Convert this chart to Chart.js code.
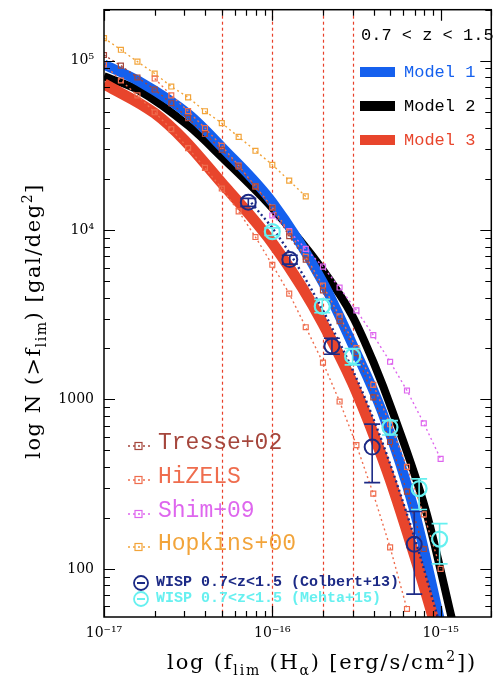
<!DOCTYPE html>
<html lang="en">
  <head>
    <meta charset="UTF-8" />
    <title>H-alpha number counts</title>
    <script src="https://cdn.jsdelivr.net/npm/chart.js"></script>
    <style>
      body { margin: 0; background: #fff; }
      #wrap { width: 501px; height: 682px; }
    </style>
  </head>
  <body>
    <div id="wrap"><canvas id="counts" width="501" height="682"></canvas></div>

    <script>
      // flux limits in erg/s/cm2, cumulative counts in gal/deg2
      const model1Flux = [1e-17, 1.6e-17, 3.2e-17, 5e-17, 1e-16, 2e-16, 3e-16, 4.5e-16, 7e-16, 9.8e-16, 1.1e-15];
      const model1N = [9.5e4, 7.6e4, 4.8e4, 3.1e4, 1.46e4, 4.9e3, 2.1e3, 840, 218, 52, 32];

      const model2Flux = [1e-17, 1.6e-17, 3.2e-17, 5e-17, 1e-16, 2e-16, 3e-16, 4e-16, 5.2e-16, 8.2e-16, 1.16e-15, 1.3e-15];
      const model2N = [8.1e4, 6.7e4, 4.1e4, 2.7e4, 1.35e4, 5.8e3, 3.1e3, 1.65e3, 840, 218, 52, 32];

      const model3Flux = [1e-17, 2e-17, 3e-17, 5e-17, 7e-17, 1e-16, 1.5e-16, 2e-16, 3e-16, 4e-16, 5e-16, 7e-16, 9e-16, 1e-15];
      const model3N = [7.3e4, 4.9e4, 3.4e4, 1.9e4, 1.3e4, 8.4e3, 4.6e3, 2.8e3, 1.25e3, 620, 340, 120, 52, 35];

      // dotted navy curve following the Colbert points
      const colbertLineFlux = [7.5e-17, 1.07e-16, 1.6e-16, 2.14e-16, 3.2e-16, 4.28e-16, 5.35e-16, 7.5e-16, 9.6e-16];
      const colbertLineN = [1.45e4, 9.4e3, 5.0e3, 2.95e3, 1.3e3, 640, 345, 122, 52];

      const hopkinsFlux = [1e-17, 1.26e-17, 1.58e-17, 2e-17, 2.51e-17, 3.16e-17, 3.98e-17, 5.01e-17, 6.31e-17, 7.94e-17, 1e-16, 1.26e-16, 1.58e-16];
      const hopkinsN = [1.36e5, 1.16e5, 9.87e4, 8.4e4, 7.04e4, 6.08e4, 5.03e4, 4.28e4, 3.55e4, 2.94e4, 2.43e4, 1.96e4, 1.58e4];

      const tresseFlux = [1e-17, 1.26e-17, 1.58e-17, 2e-17, 2.51e-17, 3.16e-17, 3.98e-17, 5.01e-17, 6.31e-17, 7.94e-17,
        1e-16, 1.26e-16, 1.58e-16, 2e-16, 2.51e-16, 3.16e-16, 3.98e-16, 5.01e-16, 6.31e-16, 7.94e-16];
      const tresseN = [1.08e5, 9.35e4, 7.96e4, 6.76e4, 5.61e4, 4.58e4, 3.69e4, 2.98e4, 2.37e4, 1.81e4,
        1.35e4, 9.2e3, 6.7e3, 4.4e3, 2.9e3, 1.88e3, 1.03e3, 561, 286, 131];

      const hizelsHiFlux = [2e-17, 2.51e-17, 3.16e-17, 3.98e-17, 5.01e-17, 6.31e-17, 7.94e-17, 1e-16, 1.26e-16,
        1.58e-16, 2e-16, 2.51e-16, 3.16e-16, 3.98e-16, 5.01e-16, 6.31e-16, 7.94e-16, 1e-15];
      const hizelsHiN = [7.85e4, 6.24e4, 5.04e4, 4.0e4, 3.14e4, 2.4e4, 1.81e4, 1.36e4, 9.7e3,
        6.95e3, 4.7e3, 3.1e3, 2.01e3, 1.22e3, 714, 400, 210, 100];

      const hizelsLoFlux = [1e-17, 1.26e-17, 1.58e-17, 2e-17, 2.51e-17, 3.16e-17, 3.98e-17, 5.01e-17, 6.31e-17, 7.94e-17,
        1e-16, 1.26e-16, 1.58e-16, 2e-16, 2.51e-16, 3.16e-16, 3.98e-16, 5.01e-16, 6.31e-16];
      const hizelsLoN = [9.5e4, 7.64e4, 6.24e4, 4.96e4, 3.94e4, 3.05e4, 2.33e4, 1.76e4, 1.29e4, 9.1e3,
        6.24e3, 4.22e3, 2.67e3, 1.65e3, 973, 538, 278, 134, 58];

      const shimFlux = [1e-16, 1.26e-16, 1.58e-16, 2e-16, 2.51e-16, 3.16e-16, 3.98e-16, 5.01e-16, 6.31e-16, 7.94e-16, 1e-15];
      const shimN = [1.22e4, 9.86e3, 7.74e3, 6.08e3, 4.58e3, 3.36e3, 2.4e3, 1.67e3, 1.13e3, 724, 446];

      const colbertFlux = [7.2e-17, 1.27e-16, 2.26e-16, 3.92e-16, 6.97e-16];
      const colbertN = [1.46e4, 6.7e3, 2.07e3, 524, 140];
      const colbertLo = [1.38e4, 6.3e3, 1.85e3, 323, 71];
      const colbertHi = [1.54e4, 7.1e3, 2.3e3, 715, 218];

      const mehtaFlux = [1.0e-16, 1.98e-16, 3.0e-16, 5.0e-16, 7.45e-16, 9.86e-16];
      const mehtaN = [9.8e3, 3.55e3, 1.8e3, 686, 298, 150];
      const mehtaLo = [9.3e3, 3.25e3, 1.6e3, 617, 224, 107];
      const mehtaHi = [1.03e4, 3.9e3, 2.0e3, 750, 340, 185];

      const cutFlux = [5e-17, 1e-16, 2e-16, 3e-16];

      const xMin = 1e-17, xMax = 2e-15;
      const yMin = 52, yMax = 2e5;

      const BLUE = "#1560ee", BLACK = "#000000", RED = "#e8452c";
      const NAVY = "#1c2a86", CYAN = "#66f0f0";
      const TRESSE = "#a5463c", HIZELS = "#ef6d4e", SHIM = "#de66ee", HOPKINS = "#f2a43a";

      const pts = (xs, ys) => xs.map((x, i) => ({ x: x, y: ys[i] }));

      const SUP = { "-": "\u207b", 0: "\u2070", 1: "\u00b9", 2: "\u00b2", 3: "\u00b3", 4: "\u2074",
        5: "\u2075", 6: "\u2076", 7: "\u2077", 8: "\u2078", 9: "\u2079" };
      const sup = (n) => String(n).split("").map((c) => SUP[c]).join("");
      const isDecade = (v) => {
        const l = Math.log10(v);
        return Math.abs(l - Math.round(l)) < 1e-6;
      };
      // keep only the decade ticks so no label sits on the plot edges
      const decadesOnly = (s) => { s.ticks = s.ticks.filter((t) => isDecade(t.value)); };

      function model(label, xs, ys, color, width, order) {
        return {
          label: label, data: pts(xs, ys), showLine: true, borderColor: color,
          borderWidth: width, pointRadius: 0, cubicInterpolationMode: "monotone", order: order,
        };
      }

      function survey(label, xs, ys, color) {
        return {
          label: label, data: pts(xs, ys), showLine: true, borderColor: color,
          borderWidth: 1.4, borderDash: [2, 3], pointStyle: "rect", pointRadius: 3.5,
          pointBorderColor: color, pointBorderWidth: 1.2, pointBackgroundColor: "rgba(0,0,0,0)", order: 5,
        };
      }

      function richText(ctx, parts, size, family, spacing) {
        // parts: [text, "", "sub" or "sup"]
        ctx.letterSpacing = spacing + "px";
        let w = 0;
        const items = parts.map(([t, k]) => {
          const s = k ? Math.round(size * 0.68) : size;
          ctx.font = s + "px " + family;
          const m = ctx.measureText(t).width;
          const it = { t: t, s: s, k: k, x: w };
          w += m;
          return it;
        });
        return { width: w, draw(x0, y0) {
          ctx.letterSpacing = spacing + "px";
          for (const it of items) {
            ctx.font = it.s + "px " + family;
            const dy = it.k === "sub" ? size * 0.3 : it.k === "sup" ? -size * 0.38 : 0;
            ctx.fillText(it.t, x0 + it.x, y0 + dy);
          }
          ctx.letterSpacing = "0px";
        } };
      }

      const decor = {
        id: "decor",
        beforeDatasetsDraw(chart) {
          const { ctx, chartArea: a, scales } = chart;
          ctx.save();
          ctx.strokeStyle = "#e8402a";
          ctx.lineWidth = 1.2;
          ctx.setLineDash([3, 3]);
          for (const f of cutFlux) {
            const x = Math.round(scales.x.getPixelForValue(f)) + 0.5;
            ctx.beginPath();
            ctx.moveTo(x, a.top);
            ctx.lineTo(x, a.bottom);
            ctx.stroke();
          }
          ctx.restore();
        },
        afterDatasetsDraw(chart) {
          const { ctx, scales } = chart;
          const xs = scales.x, ys = scales.y;
          ctx.save();
          // error bars
          const bars = (fl, lo, hi, color) => {
            ctx.strokeStyle = color;
            ctx.lineWidth = 1.6;
            fl.forEach((f, i) => {
              const x = xs.getPixelForValue(f);
              const y1 = ys.getPixelForValue(lo[i]), y2 = ys.getPixelForValue(hi[i]);
              ctx.beginPath();
              ctx.moveTo(x, y1); ctx.lineTo(x, y2);
              ctx.moveTo(x - 8, y1); ctx.lineTo(x + 8, y1);
              ctx.moveTo(x - 8, y2); ctx.lineTo(x + 8, y2);
              ctx.stroke();
            });
          };
          bars(colbertFlux, colbertLo, colbertHi, NAVY);
          bars(mehtaFlux, mehtaLo, mehtaHi, CYAN);

          // top-right legend
          ctx.textBaseline = "middle";
          ctx.font = "17px 'Liberation Mono'";
          ctx.fillStyle = "#000";
          ctx.fillText("0.7 < z < 1.5", 361, 35);
          [["Model 1", BLUE, 72], ["Model 2", BLACK, 106], ["Model 3", RED, 140]].forEach(([t, c, y]) => {
            ctx.fillStyle = c;
            ctx.fillRect(360, y - 5, 35, 10);
            ctx.fillText(t, 404, y);
          });

          // bottom-left legend
          ctx.font = "23px 'Liberation Mono'";
          [["Tresse+02", TRESSE, 446], ["HiZELS", HIZELS, 480], ["Shim+09", SHIM, 514], ["Hopkins+00", HOPKINS, 547]].forEach(([t, c, y]) => {
            ctx.strokeStyle = c;
            ctx.lineWidth = 1.4;
            ctx.setLineDash([2, 3]);
            ctx.beginPath();
            ctx.moveTo(128, y); ctx.lineTo(152, y);
            ctx.stroke();
            ctx.setLineDash([]);
            ctx.lineWidth = 1.2;
            ctx.strokeRect(135, y - 3.5, 7, 7);
            ctx.fillStyle = c;
            ctx.fillText(t, 158, y - 3);
          });
          ctx.font = "bold 15px 'Liberation Mono'";
          [["WISP 0.7<z<1.5 (Colbert+13)", NAVY, 582], ["WISP 0.7<z<1.5 (Mehta+15)", CYAN, 598]].forEach(([t, c, y]) => {
            ctx.strokeStyle = c;
            ctx.lineWidth = 1.8;
            ctx.beginPath();
            ctx.arc(141, y + 1, 7, 0, Math.PI * 2);
            ctx.moveTo(137, y + 1); ctx.lineTo(145, y + 1);
            ctx.stroke();
            ctx.fillStyle = c;
            ctx.fillText(t, 156, y);
          });
          ctx.restore();
        },
        afterDraw(chart) {
          const { ctx, chartArea: a, scales } = chart;
          const xs = scales.x, ys = scales.y;
          ctx.save();
          ctx.strokeStyle = "#000";
          ctx.lineWidth = 1.5;
          ctx.strokeRect(a.left, a.top, a.right - a.left, a.bottom - a.top);
          ctx.lineWidth = 1.2;
          ctx.beginPath();
          for (let e = -17; e <= -15; e++) {
            for (let m = 1; m <= 9; m++) {
              const v = m * Math.pow(10, e);
              if (v < xMin * 0.999 || v > xMax) continue;
              const x = Math.round(xs.getPixelForValue(v)) + 0.5;
              const len = m === 1 ? 11 : 6;
              ctx.moveTo(x, a.bottom); ctx.lineTo(x, a.bottom - len);
              ctx.moveTo(x, a.top); ctx.lineTo(x, a.top + len);
            }
          }
          for (let e = 1; e <= 5; e++) {
            for (let m = 1; m <= 9; m++) {
              const v = m * Math.pow(10, e);
              if (v < yMin || v > yMax) continue;
              const y = Math.round(ys.getPixelForValue(v)) + 0.5;
              const len = m === 1 ? 11 : 6;
              ctx.moveTo(a.left, y); ctx.lineTo(a.left + len, y);
              ctx.moveTo(a.right, y); ctx.lineTo(a.right - len, y);
            }
          }
          ctx.stroke();

          // axis titles
          ctx.fillStyle = "#000";
          ctx.textBaseline = "alphabetic";
          const fam = "'DejaVu Serif'";
          const xt = richText(ctx, [["log (f", ""], ["lim", "sub"], [" (H", ""], ["\u03b1", "sub"],
            [") [erg/s/cm", ""], ["2", "sup"], ["])", ""]], 21, fam, 1.8);
          xt.draw(322 - xt.width / 2, 669);
          const yt = richText(ctx, [["log N (>f", ""], ["lim", "sub"], [") [gal/deg", ""], ["2", "sup"], ["]", ""]], 21, fam, 1.5);
          ctx.translate(40, 321);
          ctx.rotate(-Math.PI / 2);
          yt.draw(-yt.width / 2, 0);
          ctx.restore();
        },
      };

      const ctx = document.getElementById("counts").getContext("2d");
      new Chart(ctx, {
        type: "scatter",
        data: {
          datasets: [
            {
              label: "Colbert+13", data: pts(colbertFlux, colbertN), pointStyle: "circle", pointRadius: 7.5,
              pointBorderColor: NAVY, pointBorderWidth: 2, pointBackgroundColor: "rgba(0,0,0,0)", order: 1,
            },
            {
              label: "Mehta+15", data: pts(mehtaFlux, mehtaN), pointStyle: "circle", pointRadius: 7.5,
              pointBorderColor: CYAN, pointBorderWidth: 2.2, pointBackgroundColor: "rgba(0,0,0,0)", order: 1,
            },
            {
              label: "Colbert fit", data: pts(colbertLineFlux, colbertLineN), showLine: true, borderColor: NAVY,
              borderWidth: 2.4, borderDash: [2, 3], pointRadius: 0, cubicInterpolationMode: "monotone", order: 2,
            },
            survey("Tresse+02", tresseFlux, tresseN, TRESSE),
            survey("HiZELS", hizelsHiFlux, hizelsHiN, HIZELS),
            survey("HiZELS low", hizelsLoFlux, hizelsLoN, HIZELS),
            survey("Shim+09", shimFlux, shimN, SHIM),
            survey("Hopkins+00", hopkinsFlux, hopkinsN, HOPKINS),
            model("Model 3", model3Flux, model3N, RED, 11, 6),
            model("Model 1", model1Flux, model1N, BLUE, 10, 7),
            model("Model 2", model2Flux, model2N, BLACK, 8, 8),
          ],
        },
        options: {
          responsive: false,
          animation: false,
          devicePixelRatio: 1,
          layout: { padding: { top: 5, right: 4, left: 0, bottom: 0 } },
          plugins: { legend: { display: false }, tooltip: { enabled: false } },
          scales: {
            x: {
              type: "logarithmic",
              min: xMin,
              max: xMax,
              grid: { display: false, drawTicks: false },
              border: { display: false },
              afterBuildTicks: decadesOnly,
              afterFit: (s) => {
                s.height = 65;
                s.paddingLeft = 0;
                s.paddingRight = 0;
              },
              ticks: {
                autoSkip: false,
                maxRotation: 0,
                padding: 8,
                color: "#000",
                font: { family: "'DejaVu Serif'", size: 14 },
                callback: (v) => "10" + sup(Math.round(Math.log10(v))),
              },
            },
            y: {
              type: "logarithmic",
              min: yMin,
              max: yMax,
              grid: { display: false, drawTicks: false },
              border: { display: false },
              afterBuildTicks: decadesOnly,
              // tick labels sit well inside the range, so drop the label overhang padding
              afterFit: (s) => {
                s.width = 104;
                s.paddingTop = 0;
                s.paddingBottom = 0;
              },
              ticks: {
                autoSkip: false,
                padding: 10,
                color: "#000",
                font: { family: "'DejaVu Serif'", size: 14 },
                callback: (v) => {
                  const n = Math.round(Math.log10(v));
                  return n >= 4 ? "10" + sup(n) : String(Math.round(v));
                },
              },
            },
          },
        },
        plugins: [decor],
      });
    </script>
  </body>
</html>
